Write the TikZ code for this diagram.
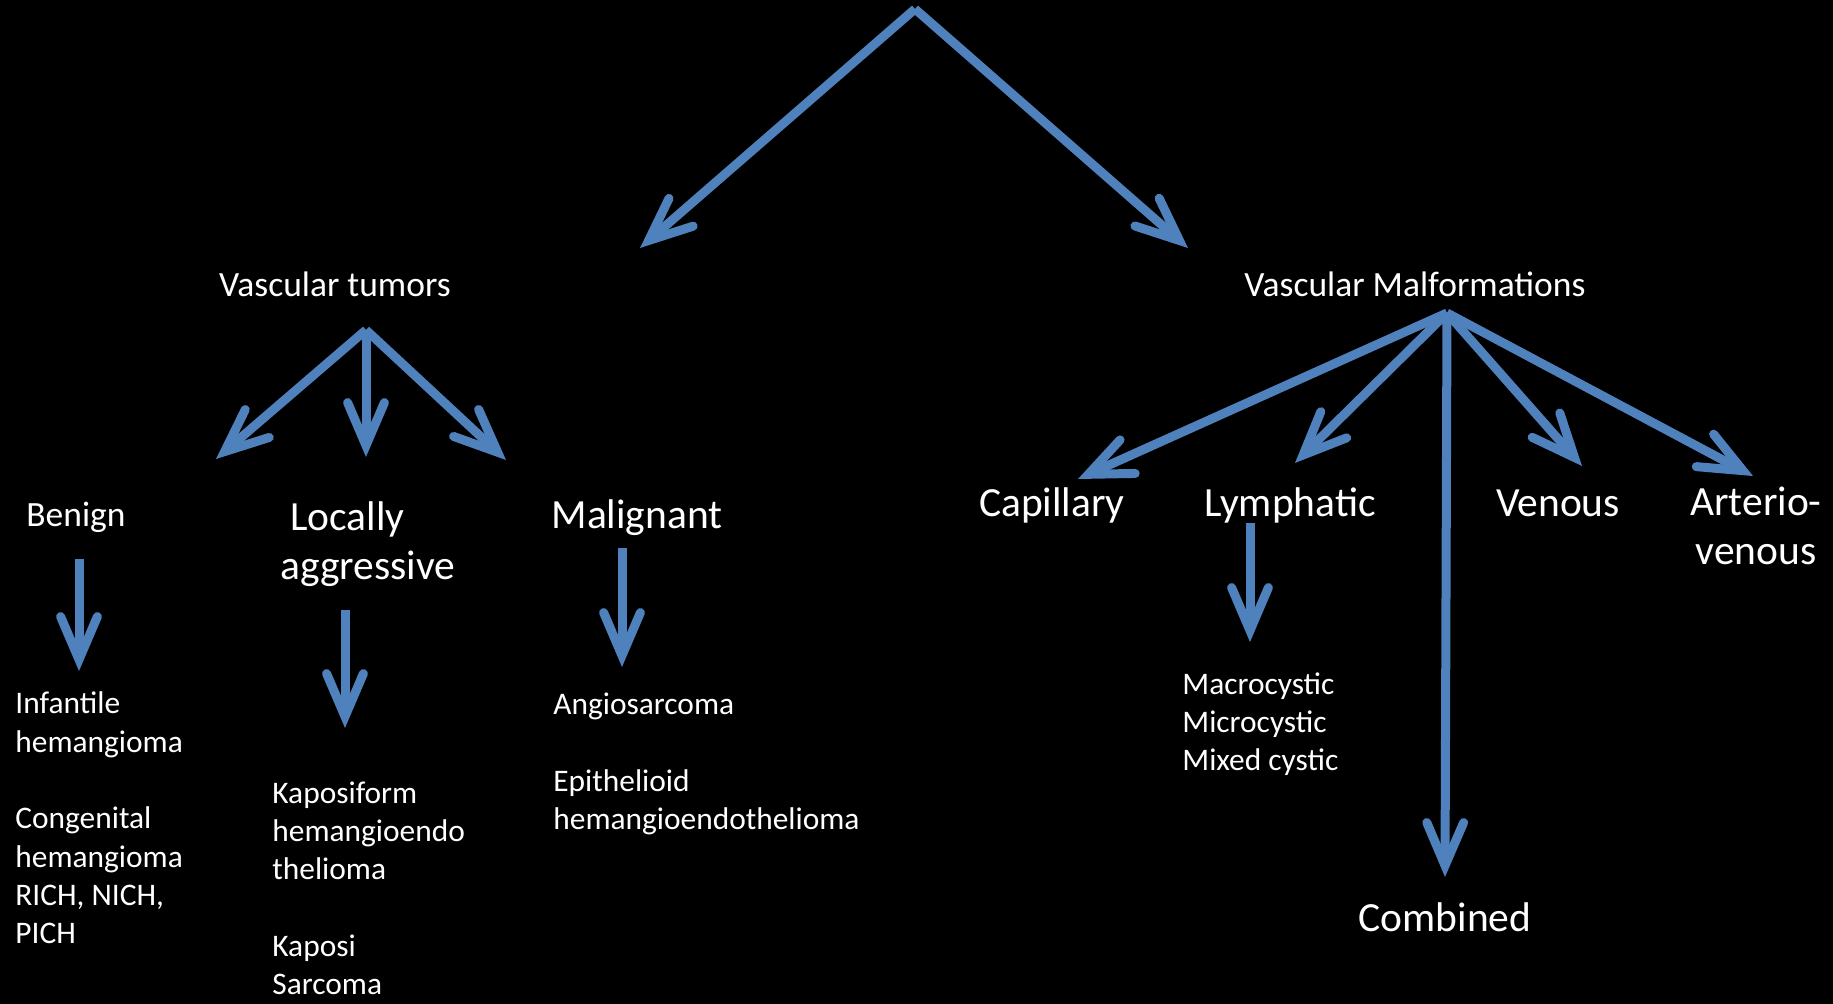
\documentclass[tikz,border=0pt]{standalone}
\usepackage{fontspec}
\setmainfont{Carlito}
\usepackage{tikz}
\usetikzlibrary{arrows.meta, positioning}
\definecolor{arrowblue}{RGB}{79,129,189}
\tikzstyle{heading} = [text=white, 
font=\fontsize{17.75}{21.5}\selectfont, 
anchor=base, 
inner sep=0pt]
\tikzstyle{category} = [text=white, 
font=\fontsize{20.75}{24.5}\selectfont, 
anchor=base, 
align=center, 
inner sep=0pt]
\tikzstyle{examples} = [text=white, 
font=\fontsize{15.7}{19.2}\selectfont, 
anchor=base west, 
align=left, 
inner sep=0pt]
\tikzstyle{arrow} = [draw=arrowblue, line width=4.5pt,
-{Straight Barb[length=21.5pt, width=18.4pt, line cap=round, line join=miter]}]

\begin{document}
\begin{tikzpicture}[x=0.5pt, y=-0.5pt]

        \fill [black] (0,0) rectangle (1833,1004);

        % Nodes (multi-line nodes sit on the baseline of their last line)
        \node (tumors) [heading] at (335,297) {Vascular tumors};
        \node (malform) [heading] at (1415,297) {Vascular Malformations};
        \node (benign) [heading] at (76,527) {Benign};
        \node (locally) [category, align=left, anchor=base west] at (280,580) {\hspace*{5pt}Locally\\aggressive};
        \node (malignant) [category] at (637,529) {Malignant};
        \node (benignlist) [examples] at (15,944) {Infantile\\hemangioma\\[19.2pt]Congenital\\hemangioma\\RICH, NICH,\\PICH};
        \node (locallylist) [examples] at (272,995) {Kaposiform\\hemangioendo\\thelioma\\[19.2pt]Kaposi\\Sarcoma};
        \node (malignantlist) [examples] at (553,830) {Angiosarcoma\\[19.2pt]Epithelioid\\hemangioendothelioma};
        \node (capillary) [category] at (1052,517) {Capillary};
        \node (lymphatic) [category] at (1290,517) {Lymphatic};
        \node (venous) [category] at (1558,517) {Venous};
        \node (arterio) [category] at (1756,565) {Arterio-\\venous};
        \node (cystlist) [examples] at (1182,771) {Macrocystic\\Microcystic\\Mixed cystic};
        \node (combined) [category] at (1445,932) {Combined};

        % Arrow ends
        \coordinate (top) at (915,9);
        \coordinate (tumorsTip) at (640,248);
        \coordinate (malformTip) at (1188,248);
        \coordinate (tumorsFork) at (366,330);
        \coordinate (benignTip) at (216,459);
        \coordinate (locallyTip) at (366,457);
        \coordinate (malignantTip) at (506,460);
        \coordinate (benignFrom) at (79,559);
        \coordinate (benignTo) at (79,671);
        \coordinate (locallyFrom) at (345,610);
        \coordinate (locallyTo) at (345,728);
        \coordinate (malignantFrom) at (622,548);
        \coordinate (malignantTo) at (622,667);
        \coordinate (malformFork) at (1447,313);
        \coordinate (capillaryTip) at (1078,479);
        \coordinate (lymphaticTip) at (1295,463);
        \coordinate (combinedTip) at (1445,877);
        \coordinate (venousTip) at (1582,466);
        \coordinate (arterioTip) at (1753,476);
        \coordinate (lymphaticFrom) at (1250,523);
        \coordinate (lymphaticTo) at (1250,642);

        % Connections
        \draw [arrow] (top) -- (tumorsTip);
        \draw [arrow] (top) -- (malformTip);
        \draw [arrow] (tumorsFork) -- (benignTip);
        \draw [arrow] (tumorsFork) -- (locallyTip);
        \draw [arrow] (tumorsFork) -- (malignantTip);
        \draw [arrow] (benignFrom) -- (benignTo);
        \draw [arrow] (locallyFrom) -- (locallyTo);
        \draw [arrow] (malignantFrom) -- (malignantTo);
        \draw [arrow] (malformFork) -- (capillaryTip);
        \draw [arrow] (malformFork) -- (lymphaticTip);
        \draw [arrow] (malformFork) -- (combinedTip);
        \draw [arrow] (malformFork) -- (venousTip);
        \draw [arrow] (malformFork) -- (arterioTip);
        \draw [arrow] (lymphaticFrom) -- (lymphaticTo);

\end{tikzpicture}
\end{document}
